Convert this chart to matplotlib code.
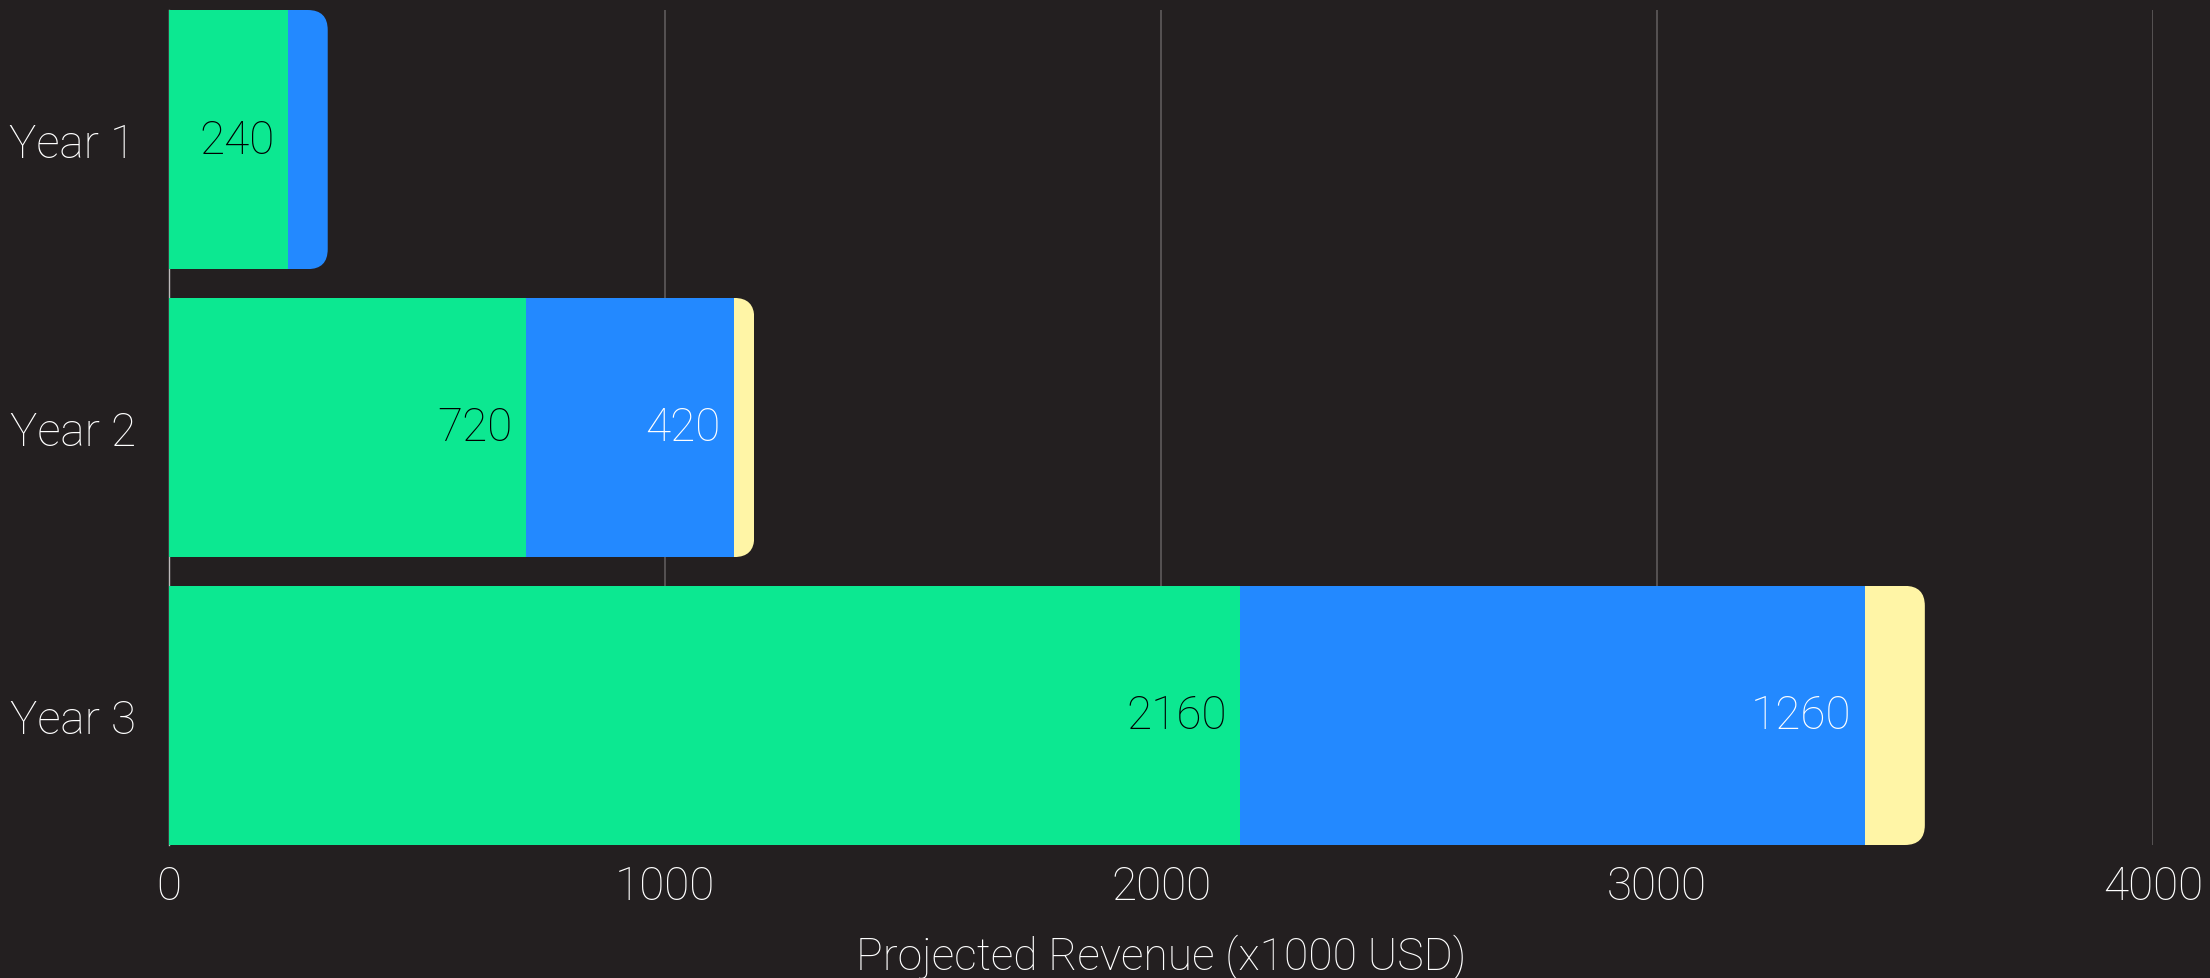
import matplotlib
matplotlib.use('Agg')
import matplotlib.pyplot as plt
from matplotlib.patches import FancyBboxPatch
import numpy as np

# data
years = ['Year 1', 'Year 2', 'Year 3']
green_vals = [240, 720, 2160]
blue_vals = [80, 420, 1260]
yellow_vals = [0, 40, 120]

BG = '#231f20'
GREEN = '#0ce891'
BLUE = '#2389ff'
YELLOW = '#fff5a6'
FONT = 'Roboto'

W, H, DPI = 2210, 979, 100
fig = plt.figure(figsize=(W / DPI, H / DPI), dpi=DPI, facecolor=BG)
left, right, bottom, top = 169 / W, 2153 / W, 1 - 846 / H, 1 - 11 / H
ax = fig.add_axes([left, bottom, right - left, top - bottom], facecolor=BG)

xmax = 4000
bar_h = 0.9
ax.set_xlim(0, xmax)
ax.set_ylim(len(years) - 1 + bar_h / 2, -bar_h / 2)

y = np.arange(len(years))
g = np.array(green_vals)
b = np.array(blue_vals)
yl = np.array(yellow_vals)

bars_g = ax.barh(y, g, height=bar_h, color=GREEN, zorder=2)
bars_b = ax.barh(y, b, left=g, height=bar_h, color=BLUE, zorder=2)
bars_y = ax.barh(y, yl, left=g + b, height=bar_h, color=YELLOW, zorder=2)

# rounded right end: clip each row with a rounded box
ax_w_px = (right - left) * W
ax_h_px = (top - bottom) * H
x_per_px = xmax / ax_w_px
y_per_px = (len(years) - 1 + bar_h) / ax_h_px
radius_px = 20
totals = g + b + yl
for i in range(len(years)):
    clip = FancyBboxPatch((-200, y[i] - bar_h / 2), totals[i] + 200, bar_h,
                          boxstyle='round,pad=0,rounding_size=%f' % (radius_px * x_per_px),
                          mutation_aspect=y_per_px / x_per_px,
                          transform=ax.transData, facecolor='none', edgecolor='none')
    for bars in (bars_g, bars_b, bars_y):
        bars[i].set_clip_path(clip)

# value labels inside segment ends
for i in range(len(years)):
    if g[i] >= 200:
        ax.annotate(str(g[i]), (g[i], y[i]), xytext=(-10, 0), textcoords='offset points',
                    ha='right', va='center', fontsize=33, color='black',
                    family=FONT, fontweight='light', zorder=3)
    if b[i] >= 200:
        ax.annotate(str(b[i]), (g[i] + b[i], y[i]), xytext=(-10, 0), textcoords='offset points',
                    ha='right', va='center', fontsize=33, color='white',
                    family=FONT, fontweight='light', zorder=3)

ax.set_xticks([0, 1000, 2000, 3000, 4000])
ax.set_yticks(y)
ax.set_yticklabels(years)
ax.tick_params(axis='both', length=0, labelsize=33, labelcolor='white')
ax.tick_params(axis='y', pad=24)
ax.tick_params(axis='x', pad=14)
for lab in ax.get_xticklabels() + ax.get_yticklabels():
    lab.set_family(FONT)
    lab.set_fontweight('light')

ax.set_xlabel('Projected Revenue (x1000 USD)', fontsize=32, color='white',
              family=FONT, fontweight='light', labelpad=18)

ax.grid(axis='x', color='#5e5b5c', linewidth=1.2, zorder=0)
ax.set_axisbelow(True)
for s in ['top', 'right', 'bottom']:
    ax.spines[s].set_visible(False)
ax.spines['left'].set_color('#bdbbbb')
ax.spines['left'].set_linewidth(1)
ax.spines['left'].set_zorder(1)

fig.savefig('out.png', dpi=DPI, facecolor=BG)
